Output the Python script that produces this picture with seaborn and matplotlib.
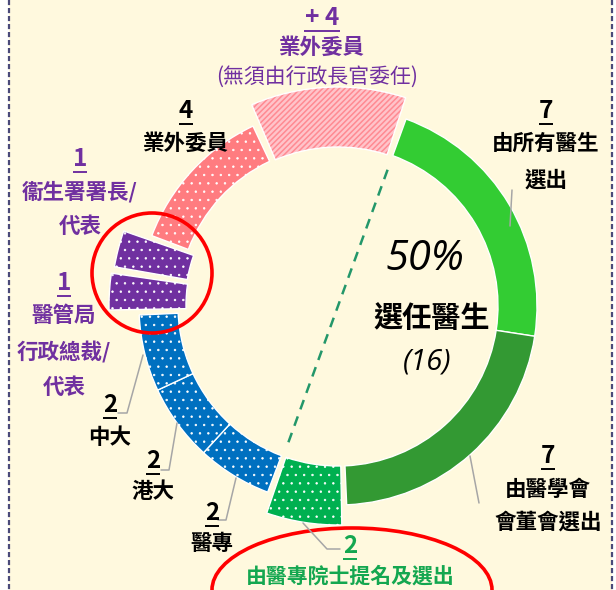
import numpy as np
import matplotlib
matplotlib.use("Agg")
import matplotlib.pyplot as plt
import seaborn as sns
from matplotlib.patches import Rectangle, Circle, Ellipse

# seats per group, clockwise from the dashed split line
seats = [7, 7, 2, 2, 2, 2, 1, 1, 4, 4]
groups = ["由所有醫生選出", "由醫學會會董會選出", "由醫專院士提名及選出", "醫專", "港大", "中大",
          "醫管局行政總裁/代表", "衞生署署長/代表", "業外委員", "業外委員(無須由行政長官委任)"]
colors = ["#33CC33", "#339933", "#00B050", "#0070C0", "#0070C0", "#0070C0",
          "#7030A0", "#7030A0", "#FF7C80", "#FFC4CA"]
elected = sum(seats[:3])
total = sum(seats)

# label text: number above, name lines below
num_labels = [f"+ {seats[9]}", str(seats[8]), str(seats[0]), str(seats[7]), str(seats[6]),
              str(seats[5]), str(seats[4]), str(seats[3]), str(seats[2]), str(seats[1])]
name_labels = [["業外委員", "(無須由行政長官委任)"], ["業外委員"], ["由所有醫生", "選出"],
               ["衞生署署長/", "代表"], ["醫管局", "行政總裁/", "代表"], ["中大"], ["港大"],
               ["醫專"], ["由醫專院士提名及選出"], ["由醫學會", "會董會選出"]]

sns.set_theme(style="white")
plt.rcParams['font.family'] = ['Noto Sans CJK TC', 'DejaVu Sans']
plt.rcParams['hatch.linewidth'] = 0.5

W, H = 616, 590
fig = plt.figure(figsize=(W / 100, H / 100), dpi=100, facecolor="white")

# cream panel with dashed border
bg = fig.add_axes([0, 0, 1, 1], zorder=0)
bg.set_xlim(0, W); bg.set_ylim(H, 0); bg.axis("off")
bg.add_patch(Rectangle((9, -5), 603, H + 10, facecolor="#FFF9DE", edgecolor="none"))
for x in (9, 612):
    bg.plot([x, x], [0, H], color="#4A4A7A", lw=1.6, ls=(0, (2.3, 1.3)))

# donut on polar axes
cx, cy, R = 338, 306, 250
ax = fig.add_axes([(cx - R) / W, (H - cy - R) / H, 2 * R / W, 2 * R / H],
                  projection="polar", zorder=1)
ax.set_theta_zero_location("N")
ax.set_theta_direction(-1)
ax.set_ylim(0, R)
ax.set_axis_off()

start = 20
unit = 360 / total
edges = start + unit * np.concatenate([[0], np.cumsum(seats)])
pad_a = [0, 0, 1.5, 0.7, 0, 0, 1.5, 1.2, 0.7, 1.8]
pad_b = [0, 0, 1.0, 0, 0, 0.1, 0.5, 0.7, 0.3, 2.0]
r_in = [160, 160, 160, 160, 160, 160, 152, 153, 160, 159]
r_out = [199, 199, 219, 199, 199, 199, 229, 227, 199, 219]
hatches = [None, None, "..", "..", "..", "..", "..", "..", "..", "//////"]

for i in range(len(seats)):
    a0 = edges[i] + pad_a[i]
    a1 = edges[i + 1] - pad_b[i]
    th = np.deg2rad((a0 + a1) / 2)
    wd = np.deg2rad(a1 - a0)
    if hatches[i] == "//////":
        bars = ax.bar(th, r_out[i] - r_in[i], width=wd, bottom=r_in[i], color=colors[i],
                      edgecolor="#FF8A92", lw=0, hatch=hatches[i])
        if hasattr(bars.patches[0], "set_hatch_linewidth"):
            bars.patches[0].set_hatch_linewidth(1.1)
        ax.bar(th, r_out[i] - r_in[i], width=wd, bottom=r_in[i], fill=False,
               edgecolor="white", lw=1)
    else:
        ax.bar(th, r_out[i] - r_in[i], width=wd, bottom=r_in[i], color=colors[i],
               edgecolor="white", lw=1, hatch=hatches[i])

split = np.deg2rad(start)
ax.plot([split, split, split + np.pi], [145, 0, 150], color="#23976A", lw=1.8,
        ls=(0, (4, 3)))

# overlay for labels and callouts
ov = fig.add_axes([0, 0, 1, 1], zorder=3)
ov.set_xlim(0, W); ov.set_ylim(H, 0); ov.axis("off")
ov.patch.set_alpha(0)

purple = "#7030A0"
green_txt = "#14A750"
gray = "#A6A6A6"

# (x, y of number, underline half width, y of name lines, colour)
layout = [
    (322, 18, 18, [47, 77], purple),
    (186, 111, 7, [143], "black"),
    (546, 111, 7, [143, 180], "black"),
    (80, 159, 7, [192, 226], purple),
    (64, 283, 7, [315, 352, 387], purple),
    (110, 405, 7, [437], "black"),
    (153, 461, 7, [492], "black"),
    (212, 513, 7, [543], "black"),
    (350, 546, 7, [576], green_txt),
    (548, 456, 7, [490, 522], "black"),
]
for (x, yn, hw, ys, col), num, names in zip(layout, num_labels, name_labels):
    ov.text(x, yn, num, ha="center", va="center", fontsize=17.5, fontweight="bold", color=col)
    ov.plot([x - hw, x + hw], [yn + 13, yn + 13], color=col, lw=1.4, solid_capstyle="butt")
    for yy, nm in zip(ys, names):
        note = nm.startswith("(")
        ov.text(x - 5 if note else x, yy, nm, ha="center", va="center",
                fontsize=15 if note or len(nm) > 8 else 15.5,
                fontweight="normal" if note else "bold", color=col)

# leader lines
leaders = [
    ([512, 510], [190, 226]),
    ([479, 470], [503, 456]),
    ([118, 127, 143], [413, 413, 355]),
    ([161, 169, 177], [470, 470, 423]),
    ([218, 226, 236], [520, 520, 478]),
    ([340, 327, 303], [549, 549, 523]),
]
for xs, ys in leaders:
    ov.plot(xs, ys, color=gray, lw=1.1)

# centre text
ov.text(425, 259, f"{round(100 * elected / total)}%", ha="center", va="center", fontsize=30,
        style="italic", family=["Open Sans", "DejaVu Sans"], color="black")
ov.text(432, 318, "選任醫生", ha="center", va="center", fontsize=21, fontweight="bold",
        color="black")
ov.text(427, 362, f"({elected})", ha="center", va="center", fontsize=21, style="italic",
        family=["Open Sans", "DejaVu Sans"], color="black")

# red highlight marks
ov.add_patch(Circle((152, 273), 60, fill=False, edgecolor="#FF0000", lw=2.6))
ov.add_patch(Ellipse((352, 590), 280, 124, fill=False, edgecolor="#FF0000", lw=2.6))

fig.savefig("out.png", dpi=100, facecolor=fig.get_facecolor())
